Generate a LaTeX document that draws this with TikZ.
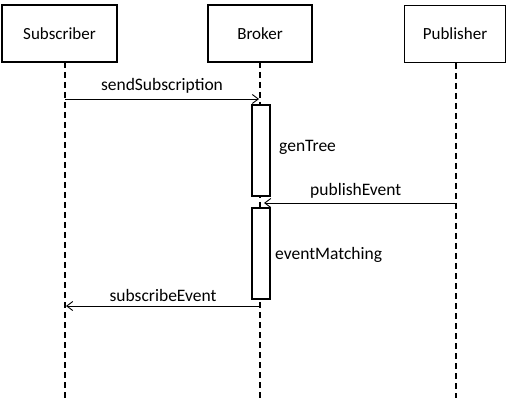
\documentclass[tikz,border=0pt]{standalone}
\usepackage{fontspec}
\setmainfont{Carlito}
\usetikzlibrary{arrows.meta}
\begin{document}
\begin{tikzpicture}[x=1pt,y=-1pt,
  actor/.style={draw,line width=1.4pt,minimum width=#1,minimum height=57pt,inner sep=0pt,font=\fontsize{17}{20}\selectfont},
  actor/.default=112pt,
  life/.style={line width=1.1pt,dash pattern=on 6pt off 4pt},
  act/.style={draw,fill=white,line width=1.1pt,minimum width=18pt,inner sep=0pt},
  msg/.style={line width=0.9pt,-{Straight Barb[length=6pt,width=9pt]}},
  lbl/.style={inner sep=0pt,font=\fontsize{17.5}{20}\selectfont}]
\useasboundingbox (0,0) rectangle (506,398);
\node[actor=115pt] (sub) at (59.5,33.5) {Subscriber};
\node[actor=104pt] (bro) at (260,33.5) {Broker};
\node[actor=101pt] (pub) at (455,34) {Publisher};
\coordinate (subE) at (65,398);
\coordinate (broE) at (260,398);
\coordinate (pubE) at (456,398);
\coordinate (subS) at (65,62);
\coordinate (broS) at (260,62);
\coordinate (pubS) at (456,63);
\draw[life] (subS) -- (subE);
\draw[life] (broS) -- (broE);
\draw[life] (pubS) -- (pubE);
\node[act,minimum height=91pt] (a1) at (261,150.5) {};
\node[act,minimum height=91pt] (a2) at (261,253.5) {};
\coordinate (m1s) at (65,99);
\coordinate (m1e) at (259,99);
\coordinate (m2s) at (456,203);
\coordinate (m2e) at (264,203);
\coordinate (m3s) at (260,306);
\coordinate (m3e) at (66,306);
\draw[msg] (m1s) -- (m1e);
\draw[msg] (m2s) -- (m2e);
\draw[msg] (m3s) -- (m3e);
\node[lbl] (l1) at (162,86) {sendSubscription};
\node[lbl,anchor=west] (l2) at (279,147) {genTree};
\node[lbl,anchor=west] (l3) at (310,191) {publishEvent};
\node[lbl,anchor=west] (l4) at (275,255) {eventMatching};
\node[lbl] (l5) at (163,295) {subscribeEvent};
\end{tikzpicture}
\end{document}
